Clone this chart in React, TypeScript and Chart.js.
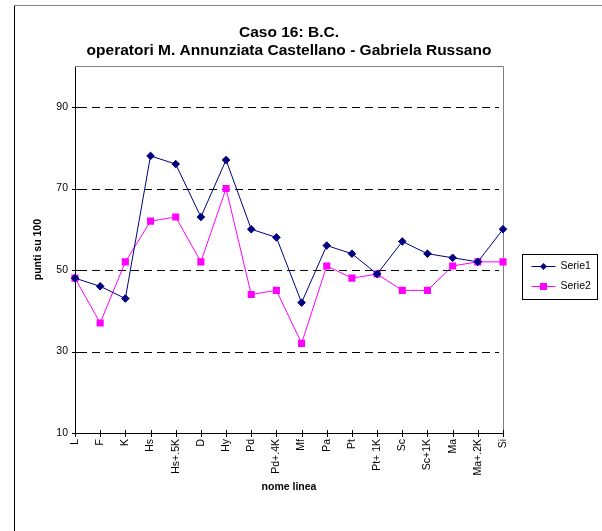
import React, { useEffect, useRef } from "react";
import { Chart, registerables } from "chart.js";

Chart.register(...registerables);

const categories = ["L", "F", "K", "Hs", "Hs+.5K", "D", "Hy", "Pd", "Pd+.4K", "Mf", "Pa", "Pt", "Pt+ 1K", "Sc", "Sc+1K", "Ma", "Ma+.2K", "Si"];
const serie1 = [48, 46, 43, 78, 76, 63, 77, 60, 58, 42, 56, 54, 49, 57, 54, 53, 52, 60];
const serie2 = [48, 37, 52, 62, 63, 52, 70, 44, 45, 32, 51, 48, 49, 45, 45, 51, 52, 52];
const seriesNames = ["Serie1", "Serie2"];
const titleLines = ["Caso 16: B.C.", "operatori M. Annunziata Castellano - Gabriela Russano"];
const yTitle = "punti su 100";
const xTitle = "nome linea";
const yMin = 10;
const yMax = 100;
const yTickValues = [10, 30, 50, 70, 90, 100];

const FONT = "'Liberation Sans', Arial, sans-serif";
const NAVY = "#000080";
const MAGENTA = "#FF00FF";

const decorPlugin = {
  id: "decor",
  beforeDatasetsDraw(chart: any) {
    const { ctx, chartArea } = chart;
    const { left, right, top, bottom } = chartArea;
    const y = chart.scales.y;
    const x = chart.scales.x;
    ctx.save();
    ctx.strokeStyle = "#000";
    ctx.lineWidth = 1;
    ctx.setLineDash([8, 5]);
    y.ticks.forEach((t: any) => {
      if (t.value <= yMin || t.value >= yMax) return;
      const py = Math.round(y.getPixelForValue(t.value)) + 0.5;
      ctx.beginPath();
      ctx.moveTo(left + 4, py);
      ctx.lineTo(right - 4, py);
      ctx.stroke();
    });
    ctx.setLineDash([]);
    ctx.strokeStyle = "#808080";
    ctx.beginPath();
    ctx.moveTo(left, Math.round(top) + 0.5);
    ctx.lineTo(Math.round(right) + 0.5, Math.round(top) + 0.5);
    ctx.lineTo(Math.round(right) + 0.5, bottom);
    ctx.stroke();
    ctx.strokeStyle = "#000";
    y.ticks.forEach((t: any) => {
      if (t.value >= yMax) return;
      const py = Math.round(y.getPixelForValue(t.value)) + 0.5;
      ctx.beginPath();
      ctx.moveTo(left - 3, py);
      ctx.lineTo(left + 4, py);
      ctx.stroke();
    });
    x.ticks.forEach((_t: any, i: number) => {
      const px = Math.round(x.getPixelForTick(i)) + 0.5;
      ctx.beginPath();
      ctx.moveTo(px, bottom - 3);
      ctx.lineTo(px, bottom + 4);
      ctx.stroke();
    });
    ctx.strokeStyle = "#000";
    ctx.beginPath();
    ctx.moveTo(14.5, 5);
    ctx.lineTo(14.5, chart.height);
    ctx.stroke();
    ctx.strokeStyle = "#808080";
    ctx.beginPath();
    ctx.moveTo(14, 5.5);
    ctx.lineTo(chart.width, 5.5);
    ctx.stroke();
    ctx.restore();
  },
  afterDraw(chart: any) {
    const { ctx, chartArea } = chart;
    const bx = Math.round(chartArea.right) + 19.5;
    const by = Math.round((chartArea.top + chartArea.bottom) / 2) + 4.5;
    const bw = 75;
    const bh = 45;
    ctx.save();
    ctx.strokeStyle = "#000";
    ctx.lineWidth = 1;
    ctx.strokeRect(bx, by, bw, bh);
    const colors = [NAVY, MAGENTA];
    ctx.font = "10.5px " + FONT;
    ctx.textBaseline = "middle";
    seriesNames.forEach((name, i) => {
      const ly = Math.round(by + 11 + i * 20) + 0.5;
      ctx.strokeStyle = colors[i];
      ctx.beginPath();
      ctx.moveTo(bx + 9, ly);
      ctx.lineTo(bx + 33, ly);
      ctx.stroke();
      ctx.fillStyle = colors[i];
      const cx = bx + 21;
      if (i === 0) {
        ctx.beginPath();
        ctx.moveTo(cx - 3.5, ly);
        ctx.lineTo(cx, ly - 3.5);
        ctx.lineTo(cx + 3.5, ly);
        ctx.lineTo(cx, ly + 3.5);
        ctx.closePath();
        ctx.fill();
      } else {
        ctx.fillRect(cx - 3.5, ly - 3.5, 7, 7);
      }
      ctx.fillStyle = "#000";
      ctx.fillText(name, bx + 38, ly);
    });
    ctx.restore();
  },
};

export default function App() {
  const ref = useRef<HTMLCanvasElement>(null);
  useEffect(() => {
    if (!ref.current) return;
    const chart = new Chart(ref.current, {
      type: "line",
      data: {
        labels: categories,
        datasets: [
          {
            label: seriesNames[0],
            data: serie1,
            borderColor: NAVY,
            backgroundColor: NAVY,
            borderWidth: 1,
            pointStyle: "rectRot",
            pointRadius: 3.8,
            pointBorderWidth: 1,
            tension: 0,
          },
          {
            label: seriesNames[1],
            data: serie2,
            borderColor: MAGENTA,
            backgroundColor: MAGENTA,
            borderWidth: 1,
            pointStyle: "rect",
            pointRadius: 5,
            pointBorderWidth: 0,
            tension: 0,
          },
        ],
      },
      plugins: [decorPlugin],
      options: {
        responsive: false,
        animation: false,
        events: [],
        layout: { padding: { left: 0, right: 99, top: 0, bottom: 0 } },
        plugins: {
          legend: { display: false },
          tooltip: { enabled: false },
          title: {
            display: true,
            fullSize: false,
            text: titleLines,
            color: "#000",
            font: { family: FONT, size: 15.5, weight: "bold", lineHeight: 1.17 },
            padding: { top: 24, bottom: 6 },
          },
        },
        scales: {
          x: {
            type: "category",
            offset: false,
            grid: { display: false, drawTicks: false },
            border: { display: true, color: "#000", width: 1 },
            ticks: {
              autoSkip: false,
              minRotation: 90,
              maxRotation: 90,
              padding: 6,
              color: "#000",
              font: { family: FONT, size: 10.5 },
            },
            title: {
              display: true,
              text: xTitle,
              color: "#000",
              font: { family: FONT, size: 10.5, weight: "bold", lineHeight: 1.2 },
              padding: { top: 0, bottom: 38 },
            },
            afterFit: (s: any) => {
              s.height = 98;
            },
          },
          y: {
            min: yMin,
            max: yMax,
            grid: { display: false, drawTicks: false },
            border: { display: true, color: "#000", width: 1 },
            afterBuildTicks: (s: any) => {
              s.ticks = yTickValues.map((v) => ({ value: v }));
            },
            ticks: {
              padding: 7,
              color: "#000",
              font: { family: FONT, size: 10.5 },
              callback: (v: any) => (v >= yMax ? "" : String(v)),
            },
            title: {
              display: true,
              text: yTitle,
              color: "#000",
              font: { family: FONT, size: 10.5, weight: "bold", lineHeight: 1.2 },
              padding: { top: 32, bottom: 0 },
            },
            afterFit: (s: any) => {
              s.width = 75;
            },
          },
        },
      },
    });
    return () => chart.destroy();
  }, []);
  return (
    <div style={{ position: "absolute", left: 0, top: 0, width: 602, height: 531, background: "#fff" }}>
      <canvas ref={ref} width={602} height={531} style={{ display: "block" }} />
    </div>
  );
}
